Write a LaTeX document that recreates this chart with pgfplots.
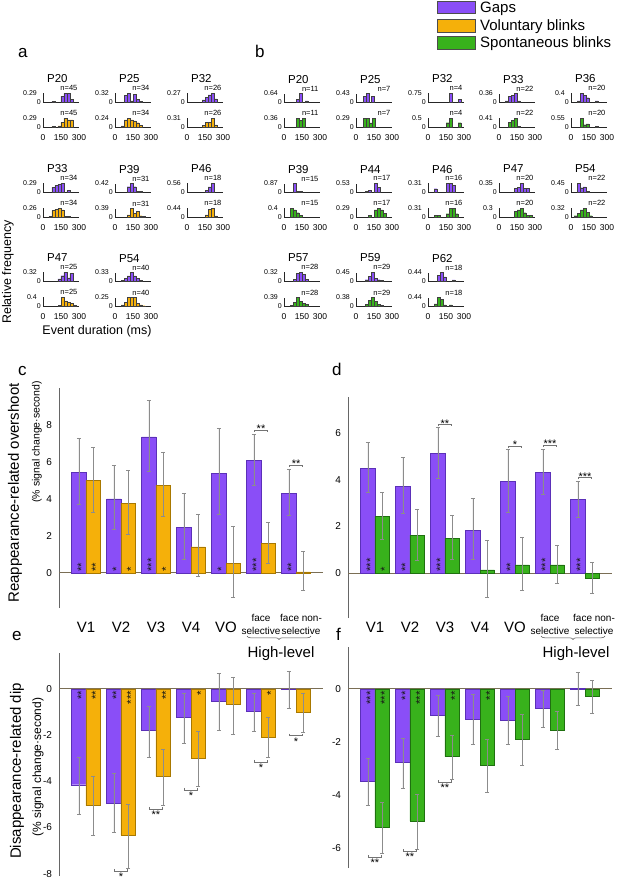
\documentclass[border=0pt]{standalone}
\usepackage{fontspec}
\setmainfont{Liberation Sans}
\usepackage{pgfplots}
\pgfplotsset{compat=1.18}
\usepackage{pgfplotstable}
\usetikzlibrary{decorations.pathreplacing}

\newcommand{\fs}[1]{\fontsize{#1}{#1}\selectfont}
\definecolor{gapc}{HTML}{8A4EF7}
\definecolor{volc}{HTML}{F5B00A}
\definecolor{spoc}{HTML}{38B21C}
\definecolor{gape}{HTML}{5B30B8}
\definecolor{vole}{HTML}{A87800}
\definecolor{spoe}{HTML}{1F7010}
\definecolor{errc}{HTML}{8C8C8C}
\definecolor{zeroc}{HTML}{7A6E55}
\tikzset{brc/.style={draw=black!55, line width=0.5pt}}

\pgfplotstableread{
x g glo ghi v vlo vhi
0 5.42 3.70 7.30 5.00 3.30 6.80
1 4.00 2.35 5.80 3.75 2.10 5.55
2 7.35 5.50 9.35 4.75 3.05 6.55
3 2.45 0.75 4.30 1.40 -0.20 3.15
4 5.40 3.15 7.85 0.50 -1.30 2.50
5 6.10 4.75 7.50 1.60 0.50 2.75
6 4.30 3.10 5.60 0.05 -0.95 1.15
}\tabc
\pgfplotstableread{
x g glo ghi v vlo vhi
0 4.50 3.45 5.60 2.42 1.45 3.45
1 3.72 2.55 4.95 1.62 0.55 2.75
2 5.13 4.05 6.27 1.50 0.60 2.48
3 1.82 0.58 3.20 0.13 -1.02 1.40
4 3.92 2.60 5.32 0.35 -0.75 1.55
5 4.32 3.38 5.30 0.35 -0.42 1.20
6 3.15 2.40 3.95 -0.22 -0.88 0.45
}\tabd
\pgfplotstableread{
x g glo ghi v vlo vhi
0 -4.15 -5.42 -2.97 -5.05 -6.32 -3.80
1 -4.93 -6.22 -3.67 -6.33 -7.75 -5.00
2 -1.80 -2.95 -0.75 -3.80 -5.05 -2.62
3 -1.22 -2.35 -0.17 -3.00 -4.20 -1.85
4 -0.52 -1.80 0.68 -0.67 -1.97 0.52
5 -0.98 -1.85 -0.17 -2.08 -2.97 -1.22
6 -0.02 -0.85 0.77 -1.00 -1.88 -0.17
}\tabe
\pgfplotstableread{
x g glo ghi v vlo vhi
0 -3.47 -4.37 -2.60 -5.22 -6.20 -4.28
1 -2.78 -3.75 -1.87 -4.98 -6.03 -3.97
2 -0.98 -1.77 -0.22 -2.55 -3.40 -1.75
3 -1.13 -2.10 -0.20 -2.87 -3.90 -1.88
4 -1.17 -2.10 -0.27 -1.90 -2.88 -0.97
5 -0.72 -1.45 -0.05 -1.55 -2.28 -0.83
6 0.02 -0.60 0.62 -0.27 -0.92 0.33
}\tabf

\pgfplotsset{
 histax/.style={scale only axis, width=36pt, height=8.5pt,
  xmin=0, xmax=300, ymin=0, anchor=south west, clip=false,
  axis lines=left, axis line style={-, line width=0.6pt, black!85},
  xtick={0,150,300}, ytick={0}, yticklabels={0},
  major tick length=0pt,
  yticklabel style={font=\fs{7}, inner sep=1pt, xshift=-1pt},
  xticklabel style={font=\fs{8.5}, inner sep=1pt, yshift=-6pt},
  extra y tick style={yticklabel style={xshift=-4pt}}},
 histbar/.style={ybar, bar width=25, bar shift=0pt, draw=black!75, line width=0.3pt},
 barax/.style={scale only axis, width=264pt, xmin=-0.77, xmax=6.77,
  anchor=south west, clip=false,
  axis y line=left, axis x line=bottom, axis line style={-},
  y axis line style={-, draw=black!60, line width=0.6pt},
  x axis line style={-, draw=none},
  major tick length=0pt,
  yticklabel style={font=\fs{10}, xshift=-3.5pt},
  extra y ticks={0}, extra y tick labels={},
  extra y tick style={grid=major, major grid style={draw=zeroc, line width=0.9pt}}},
 errsty/.style={error bars/.cd, y dir=both, y explicit,
  error bar style={errc, line width=0.5pt},
  error mark options={rotate=90, errc, mark size=2pt, line width=0.5pt}},
 gbar/.style={ybar, bar width=0.41, bar shift=0pt, fill=gapc, draw=gape, line width=0.4pt, errsty},
 vbar/.style={ybar, bar width=0.41, bar shift=0pt, fill=volc, draw=vole, line width=0.4pt, errsty},
 sbar/.style={ybar, bar width=0.41, bar shift=0pt, fill=spoc, draw=spoe, line width=0.4pt, errsty}
}

% histogram macros: x, y(zero line), ymax, colour, n, title, coords
\newcommand{\histtop}[7]{%
\begin{axis}[histax, at={(#1pt,-#2pt)}, ymax=#3, extra y ticks={#3}, extra y tick labels={#3}, xticklabels={}]
\addplot[histbar, fill=#4] coordinates {#7};
\node[anchor=base, font=\fs{11.5}, yshift=10.5pt] at (rel axis cs:0.4,1) {#6};
\node[anchor=base east, font=\fs{7.5}, inner sep=0pt, yshift=2.5pt] at (rel axis cs:0.96,1) {n=#5};
\end{axis}}
\newcommand{\histbot}[6]{%
\begin{axis}[histax, at={(#1pt,-#2pt)}, ymax=#3, extra y ticks={#3}, extra y tick labels={#3}, xticklabels={0,150,300}]
\addplot[histbar, fill=#4] coordinates {#6};
\node[anchor=base east, font=\fs{7.5}, inner sep=0pt, yshift=2.5pt] at (rel axis cs:0.96,1) {n=#5};
\end{axis}}

% significance stars inside bars
\newcommand{\su}[2]{\node[xshift=6.6pt, rotate=90, anchor=base west, inner sep=0pt, font=\fs{11.5}, black!90] at (axis cs:#1,0.05) {#2};}
\newcommand{\sd}[2]{\node[xshift=6.6pt, rotate=90, anchor=base east, inner sep=0pt, font=\fs{11.5}, black!90] at (axis cs:#1,-0.08) {#2};}
% brackets: x1, x2, xc, y, stars
\newcommand{\brt}[5]{\draw[brc] ([yshift=-2pt]axis cs:#1,#4) -- (axis cs:#1,#4) -- (axis cs:#2,#4) -- ([yshift=-2pt]axis cs:#2,#4);
\node[font=\fs{11}, anchor=base, inner sep=0pt, yshift=-3pt] at (axis cs:#3,#4) {#5};}
\newcommand{\brb}[5]{\draw[brc] ([yshift=2pt]axis cs:#1,#4) -- (axis cs:#1,#4) -- (axis cs:#2,#4) -- ([yshift=2pt]axis cs:#2,#4);
\node[font=\fs{11}, anchor=base, inner sep=0pt, yshift=-9.4pt] at (axis cs:#3,#4) {#5};}
\newcommand{\hl}[3]{\hspace*{#1}\raisebox{-2pt}{\fontsize{10}{13}\selectfont\begin{tabular}[b]{@{}c@{}}#2\\#3\end{tabular}}}

\begin{document}
\begin{tikzpicture}
\useasboundingbox (0,0) rectangle (617pt,-893pt);

% ---------- legend ----------
\filldraw[fill=gapc, draw=black!70, line width=0.5pt] (437pt,-1pt) rectangle (475pt,-13pt);
\filldraw[fill=volc, draw=black!70, line width=0.5pt] (437pt,-19pt) rectangle (475pt,-32pt);
\filldraw[fill=spoc, draw=black!70, line width=0.5pt] (437pt,-36pt) rectangle (475pt,-49pt);
\node[anchor=base west, inner sep=0pt, font=\fs{15}] at (480pt,-13pt) {Gaps};
\node[anchor=base west, inner sep=0pt, font=\fs{15}] at (480pt,-30.5pt) {Voluntary blinks};
\node[anchor=base west, inner sep=0pt, font=\fs{15}] at (480pt,-48pt) {Spontaneous blinks};

% ---------- panel labels ----------
\node[anchor=base west, inner sep=0pt, font=\fs{17}] at (18pt,-58pt) {a};
\node[anchor=base west, inner sep=0pt, font=\fs{17}] at (255pt,-58pt) {b};
\node[anchor=base west, inner sep=0pt, font=\fs{17}] at (18pt,-375pt) {c};
\node[anchor=base west, inner sep=0pt, font=\fs{17}] at (332pt,-375pt) {d};
\node[anchor=base west, inner sep=0pt, font=\fs{17}] at (12pt,-640pt) {e};
\node[anchor=base west, inner sep=0pt, font=\fs{17}] at (336pt,-640pt) {f};

% ---------- panel a ----------
\histtop{43}{102}{0.29}{gapc}{45}{P20}{(87.5,0.02)(162.5,0.2)(187.5,0.29)(212.5,0.29)(237.5,0.1)}
\histbot{43}{127}{0.29}{volc}{45}{(87.5,0.02)(137.5,0.04)(162.5,0.16)(187.5,0.29)(212.5,0.24)(237.5,0.24)}
\histtop{115}{102}{0.32}{gapc}{34}{P25}{(87.5,0.24)(112.5,0.32)(137.5,0.04)(162.5,0.28)(187.5,0.1)(212.5,0.02)}
\histbot{115}{127}{0.24}{volc}{34}{(62.5,0.03)(87.5,0.2)(112.5,0.24)(137.5,0.2)(162.5,0.17)(187.5,0.12)(212.5,0.04)}
\histtop{187}{102}{0.27}{gapc}{26}{P32}{(137.5,0.07)(162.5,0.15)(187.5,0.23)(212.5,0.27)(237.5,0.1)}
\histbot{187}{127}{0.31}{volc}{26}{(137.5,0.05)(162.5,0.17)(187.5,0.17)(212.5,0.31)(237.5,0.08)}

\histtop{43}{192}{0.29}{gapc}{34}{P33}{(87.5,0.16)(112.5,0.22)(137.5,0.26)(162.5,0.29)(212.5,0.05)}
\histbot{43}{217}{0.26}{volc}{34}{(62.5,0.02)(87.5,0.2)(112.5,0.24)(137.5,0.26)(162.5,0.22)(187.5,0.03)(212.5,0.02)}
\histtop{115}{192}{0.42}{gapc}{31}{P39}{(112.5,0.26)(137.5,0.42)(162.5,0.26)(187.5,0.03)(212.5,0.03)}
\histbot{115}{217}{0.39}{volc}{31}{(112.5,0.1)(137.5,0.39)(162.5,0.16)(187.5,0.26)(212.5,0.06)(237.5,0.03)}
\histtop{187}{192}{0.56}{gapc}{18}{P46}{(162.5,0.11)(187.5,0.33)(212.5,0.56)}
\histbot{187}{217}{0.44}{volc}{18}{(162.5,0.11)(187.5,0.39)(212.5,0.44)(237.5,0.06)}

\histtop{43}{281}{0.32}{gapc}{25}{P47}{(137.5,0.08)(162.5,0.2)(187.5,0.32)(212.5,0.12)(237.5,0.28)}
\histbot{43}{306}{0.4}{volc}{25}{(137.5,0.04)(162.5,0.4)(187.5,0.24)(212.5,0.16)(237.5,0.12)(262.5,0.04)}
\histtop{115}{281}{0.33}{gapc}{40}{P54}{(62.5,0.03)(87.5,0.1)(112.5,0.2)(137.5,0.33)(162.5,0.2)(187.5,0.1)(212.5,0.03)}
\histbot{115}{306}{0.25}{volc}{40}{(62.5,0.03)(87.5,0.1)(112.5,0.25)(137.5,0.25)(162.5,0.25)(187.5,0.08)(212.5,0.03)(237.5,0.01)}

\node[rotate=90, font=\fs{12.5}] at (8pt,-272pt) {Relative frequency};
\node[font=\fs{12.5}] at (97pt,-331pt) {Event duration (ms)};

% ---------- panel b ----------
\histtop{284}{102}{0.64}{gapc}{11}{P20}{(112.5,0.18)(137.5,0.64)(187.5,0.09)}
\histbot{284}{127}{0.36}{spoc}{11}{(112.5,0.36)(137.5,0.27)(162.5,0.36)}
\histtop{356}{102}{0.43}{gapc}{7}{P25}{(75,0.29)(100,0.43)(137.5,0.29)}
\histbot{356}{127}{0.29}{spoc}{7}{(75,0.29)(100,0.29)(125,0.14)(150,0.29)}
\histtop{428}{102}{0.75}{gapc}{4}{P32}{(187.5,0.75)(262.5,0.25)}
\histbot{428}{127}{0.5}{spoc}{4}{(162.5,0.25)(187.5,0.5)(262.5,0.25)}
\histtop{499}{102}{0.36}{gapc}{22}{P33}{(62.5,0.05)(87.5,0.23)(112.5,0.27)(137.5,0.36)(162.5,0.05)}
\histbot{499}{127}{0.41}{spoc}{22}{(87.5,0.23)(112.5,0.32)(137.5,0.41)(162.5,0.04)}
\histtop{571}{102}{0.4}{gapc}{20}{P36}{(62.5,0.05)(87.5,0.4)(112.5,0.3)(137.5,0.2)(212.5,0.05)}
\histbot{571}{127}{0.55}{spoc}{20}{(87.5,0.55)(112.5,0.15)(137.5,0.2)(212.5,0.05)}

\histtop{284}{192}{0.87}{gapc}{15}{P39}{(87.5,0.87)(112.5,0.07)(137.5,0.07)}
\histbot{284}{217}{0.4}{spoc}{15}{(62.5,0.4)(87.5,0.33)(112.5,0.2)(137.5,0.07)}
\histtop{356}{192}{0.53}{gapc}{17}{P44}{(87.5,0.06)(112.5,0.12)(162.5,0.53)(187.5,0.29)}
\histbot{356}{217}{0.29}{spoc}{17}{(112.5,0.06)(162.5,0.24)(187.5,0.29)(212.5,0.24)(237.5,0.12)}
\histtop{428}{192}{0.31}{gapc}{16}{P46}{(62.5,0.12)(162.5,0.31)(187.5,0.31)(212.5,0.25)}
\histbot{428}{217}{0.31}{spoc}{16}{(62.5,0.06)(87.5,0.06)(162.5,0.12)(187.5,0.31)(212.5,0.31)(237.5,0.12)}
\histtop{499}{192}{0.35}{gapc}{20}{P47}{(137.5,0.15)(162.5,0.2)(187.5,0.35)(212.5,0.15)(237.5,0.15)}
\histbot{499}{217}{0.3}{spoc}{20}{(137.5,0.2)(162.5,0.25)(187.5,0.3)(212.5,0.15)(237.5,0.05)(262.5,0.05)}
\histtop{571}{192}{0.45}{gapc}{22}{P54}{(62.5,0.45)(87.5,0.23)(112.5,0.27)(137.5,0.05)}
\histbot{571}{217}{0.32}{spoc}{22}{(37.5,0.05)(62.5,0.14)(87.5,0.27)(112.5,0.32)(137.5,0.18)(162.5,0.05)}

\histtop{284}{281}{0.32}{gapc}{28}{P57}{(87.5,0.07)(112.5,0.28)(137.5,0.32)(162.5,0.25)(187.5,0.07)}
\histbot{284}{306}{0.39}{spoc}{28}{(62.5,0.04)(87.5,0.18)(112.5,0.39)(137.5,0.22)(162.5,0.11)(187.5,0.07)}
\histtop{356}{281}{0.45}{gapc}{29}{P59}{(87.5,0.07)(112.5,0.24)(137.5,0.45)(162.5,0.14)(187.5,0.07)(212.5,0.03)}
\histbot{356}{306}{0.38}{spoc}{29}{(87.5,0.07)(112.5,0.24)(137.5,0.38)(162.5,0.2)(187.5,0.07)(212.5,0.03)}
\histtop{428}{281}{0.44}{gapc}{18}{P62}{(87.5,0.28)(112.5,0.44)(137.5,0.22)(212.5,0.06)}
\histbot{428}{306}{0.44}{spoc}{18}{(62.5,0.11)(87.5,0.44)(112.5,0.33)(137.5,0.06)(187.5,0.06)}

% ---------- panel c ----------
\begin{axis}[barax, at={(59pt,-608pt)}, height=220pt, ymin=-1.9, ymax=10,
  ytick={0,2,4,6,8}, yticklabels={0,2,4,6,8},
  xtick={0,...,6},
  xticklabels={V1,V2,V3,V4,VO,{\hl{0pt}{face}{selective}},{\hl{10pt}{face non-}{selective}}},
  xticklabel style={font=\fs{15}, anchor=base, yshift=-24pt}]
\addplot[gbar] table[x expr=\thisrow{x}-0.205, y=g, y error plus expr=\thisrow{ghi}-\thisrow{g}, y error minus expr=\thisrow{g}-\thisrow{glo}] {\tabc};
\addplot[vbar] table[x expr=\thisrow{x}+0.205, y=v, y error plus expr=\thisrow{vhi}-\thisrow{v}, y error minus expr=\thisrow{v}-\thisrow{vlo}] {\tabc};
\su{-0.205}{**}\su{0.205}{**}\su{0.795}{*}\su{1.205}{*}\su{1.795}{***}\su{2.205}{*}
\su{3.795}{*}\su{4.795}{***}\su{5.795}{**}
\brt{4.81}{5.19}{5}{7.73}{**}
\brt{5.81}{6.19}{6}{5.84}{**}
\end{axis}

% ---------- panel d ----------
\begin{axis}[barax, at={(348pt,-618pt)}, height=221pt, ymin=-1.93, ymax=7.55,
  ytick={0,2,4,6}, yticklabels={0,2,4,6},
  xtick={0,...,6},
  xticklabels={V1,V2,V3,V4,VO,{\hl{0pt}{face}{selective}},{\hl{18pt}{face non-}{selective}}},
  xticklabel style={font=\fs{15}, anchor=base, yshift=-14pt}]
\addplot[gbar] table[x expr=\thisrow{x}-0.205, y=g, y error plus expr=\thisrow{ghi}-\thisrow{g}, y error minus expr=\thisrow{g}-\thisrow{glo}] {\tabd};
\addplot[sbar] table[x expr=\thisrow{x}+0.205, y=v, y error plus expr=\thisrow{vhi}-\thisrow{v}, y error minus expr=\thisrow{v}-\thisrow{vlo}] {\tabd};
\su{-0.205}{***}\su{0.205}{*}\su{0.795}{**}\su{1.795}{***}
\su{3.795}{**}\su{4.795}{***}\su{5.795}{***}
\brt{1.81}{2.19}{2}{6.39}{**}
\brt{3.81}{4.19}{4}{5.45}{*}
\brt{4.81}{5.19}{5}{5.5}{***}
\brt{5.81}{6.19}{6}{4.1}{***}
\end{axis}

% ---------- panel e ----------
\begin{axis}[barax, at={(59pt,-876pt)}, height=223pt, ymin=-8.1, ymax=1.55,
  ytick={-8,-6,-4,-2,0}, yticklabels={-8,-6,-4,-2,0}, xtick=\empty]
\addplot[gbar] table[x expr=\thisrow{x}-0.205, y=g, y error plus expr=\thisrow{ghi}-\thisrow{g}, y error minus expr=\thisrow{g}-\thisrow{glo}] {\tabe};
\addplot[vbar] table[x expr=\thisrow{x}+0.205, y=v, y error plus expr=\thisrow{vhi}-\thisrow{v}, y error minus expr=\thisrow{v}-\thisrow{vlo}] {\tabe};
\sd{-0.205}{**}\sd{0.205}{**}\sd{0.795}{**}\sd{1.205}{***}\sd{2.205}{**}\sd{3.205}{*}\sd{5.205}{*}
\brb{0.81}{1.19}{1}{-7.88}{*}
\brb{1.81}{2.19}{2}{-5.19}{**}
\brb{2.81}{3.19}{3}{-4.37}{*}
\brb{4.81}{5.19}{5}{-3.16}{*}
\brb{5.81}{6.19}{6}{-2.03}{*}
\end{axis}

% ---------- panel f ----------
\begin{axis}[barax, at={(348pt,-868pt)}, height=221pt, ymin=-6.75, ymax=1.58,
  ytick={-6,-4,-2,0}, yticklabels={-6,-4,-2,0}, xtick=\empty]
\addplot[gbar] table[x expr=\thisrow{x}-0.205, y=g, y error plus expr=\thisrow{ghi}-\thisrow{g}, y error minus expr=\thisrow{g}-\thisrow{glo}] {\tabf};
\addplot[sbar] table[x expr=\thisrow{x}+0.205, y=v, y error plus expr=\thisrow{vhi}-\thisrow{v}, y error minus expr=\thisrow{v}-\thisrow{vlo}] {\tabf};
\sd{-0.205}{***}\sd{0.205}{***}\sd{0.795}{**}\sd{1.205}{***}\sd{2.205}{**}\sd{3.205}{**}
\brb{-0.19}{0.19}{0}{-6.34}{**}
\brb{0.81}{1.19}{1}{-6.11}{**}
\brb{1.81}{2.19}{2}{-3.51}{**}
\end{axis}

% ---------- y labels ----------
\node[rotate=90, font=\fs{15}] at (15pt,-493pt) {Reappearance-related overshoot};
\node[rotate=90, font=\fs{10.5}] at (37pt,-442pt) {(\% signal change·second)};
\node[rotate=90, font=\fs{15}] at (17pt,-771pt) {Disappearance-related dip};
\node[rotate=90, font=\fs{12}] at (38pt,-767pt) {(\% signal change·second)};

% ---------- High-level braces ----------
\draw[decorate, decoration={brace, mirror, amplitude=3.5pt}, black!70, line width=0.5pt] (247pt,-636pt) -- (311pt,-636pt);
\draw[decorate, decoration={brace, mirror, amplitude=3.5pt}, black!70, line width=0.5pt] (541pt,-636pt) -- (605pt,-636pt);
\node[anchor=base, inner sep=0pt, font=\fs{15}] at (281pt,-657.5pt) {High-level};
\node[anchor=base, inner sep=0pt, font=\fs{15}] at (576pt,-657.5pt) {High-level};

\end{tikzpicture}
\end{document}
